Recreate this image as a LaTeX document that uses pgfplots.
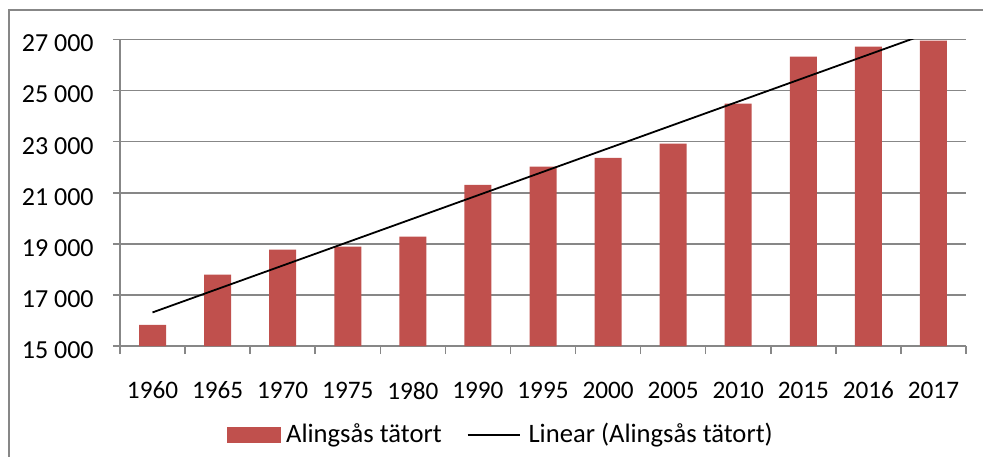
\documentclass[border=0pt]{standalone}
\usepackage{pgfplots}
\pgfplotsset{compat=1.18}
\usepackage{fontspec}
\setmainfont{Carlito}
\definecolor{barred}{HTML}{C0504D}
\definecolor{gridgray}{HTML}{878787}
\begin{document}
\fontsize{12}{14}\selectfont
\begin{tikzpicture}
\useasboundingbox (-60pt,-55pt) rectangle (431.5pt,173pt);
\draw[gridgray, line width=0.75pt] (-55.5pt,-80pt) -- (-55.5pt,168pt) -- (450pt,168pt);
\begin{axis}[
  at={(0pt,0pt)}, anchor=south west,
  scale only axis, width=423pt, height=153.25pt,
  xmin=-0.5, xmax=12.5, ymin=15000, ymax=27000,
  scaled y ticks=false,
  axis x line*=bottom, axis y line*=left,
  axis line style={gridgray, line width=0.75pt, -},
  ytick={15000,17000,19000,21000,23000,25000,27000},
  yticklabels={15 000,17 000,19 000,21 000,23 000,25 000,27 000},
  ymajorgrids, grid style={gridgray, line width=0.75pt},
  xtick={0,1,2,3,4,5,6,7,8,9,10,11,12},
  xticklabels={1960,1965,1970,1975,1980,1990,1995,2000,2005,2010,2015,2016,2017},
  minor xtick={-0.5,0.5,1.5,2.5,3.5,4.5,5.5,6.5,7.5,8.5,9.5,10.5,11.5,12.5},
  tick align=outside,
  major tick length=3.5pt, minor tick length=4pt,
  major x tick style={draw=none},
  minor x tick style={gridgray, line width=0.75pt},
  ytick style={gridgray, line width=0.75pt},
  yticklabel style={font=\fontsize{13}{15}\selectfont, text=black, xshift=-5.5pt, yshift=-2pt},
  xticklabel style={font=\fontsize{12.6}{15}\selectfont, text=black, yshift=-10.2pt},
  legend style={at={(0.4515,-0.2904)}, anchor=center, draw=none, fill=none,
    legend columns=2, font=\fontsize{13.3}{15}\selectfont,
    /tikz/every even column/.append style={column sep=10.5pt}},
  legend cell align=left,
]
\addplot[ybar, bar width=0.415, fill=barred, draw=none,
  legend image code/.code={\fill[barred] (0pt,-4.2pt) rectangle (27pt,4.2pt); \path (27.5pt,0pt);}]
  coordinates {(0,15830) (1,17790) (2,18770) (3,18890) (4,19280) (5,21310) (6,22020) (7,22370) (8,22920) (9,24490) (10,26330) (11,26720) (12,26960)};
\addlegendentry{Alingsås tätort}
\addplot[black, line width=0.9pt, mark=none,
  legend image code/.code={\draw[black, line width=0.9pt] (0pt,0pt) -- (26pt,0pt); \path (28pt,0pt);}]
  coordinates {(0,16315) (12,27323)};
\addlegendentry{Linear (Alingsås tätort)}
\end{axis}
\end{tikzpicture}
\end{document}
